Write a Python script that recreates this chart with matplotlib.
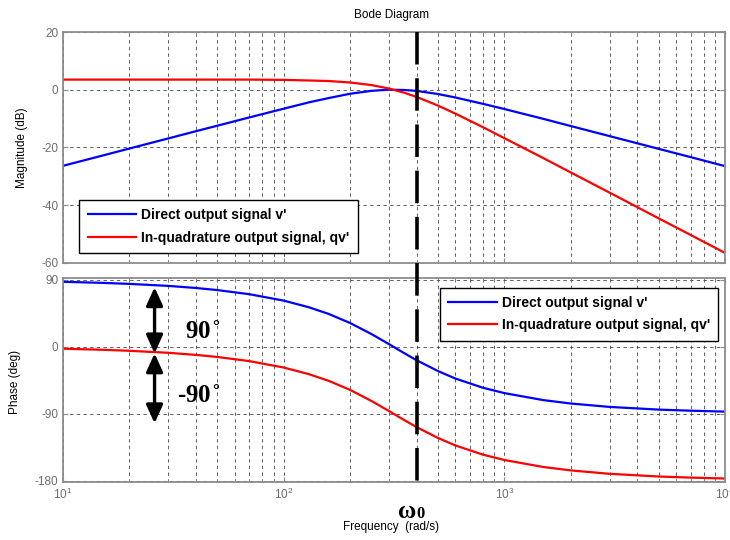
import matplotlib
matplotlib.use("Agg")
import matplotlib.pyplot as plt
from matplotlib.lines import Line2D
from matplotlib.transforms import blended_transform_factory

# --- values (rad/s, dB, deg) ---
freq = [10, 15, 20, 30, 40, 50, 70, 100, 130, 160, 200, 250, 300, 350, 400,
        500, 600, 800, 1000, 1500, 2000, 3000, 5000, 7000, 10000]
mag_direct = [-26.4, -22.9, -20.4, -16.9, -14.4, -12.5, -9.6, -6.6, -4.4, -2.9,
              -1.4, -0.4, 0.0, -0.1, -0.4, -1.5, -2.7, -4.9, -6.7, -10.1,
              -12.6, -16.1, -20.5, -23.4, -26.5]
mag_quad = [3.5, 3.5, 3.5, 3.5, 3.5, 3.5, 3.5, 3.4, 3.2, 3.0, 2.5, 1.6, 0.4,
            -1.0, -2.5, -5.5, -8.3, -13.0, -16.8, -23.7, -28.7, -35.7, -44.6,
            -50.4, -56.6]
phase_direct = [87.3, 85.9, 84.5, 81.8, 79.0, 76.2, 70.6, 62.0, 53.1, 44.1,
                31.9, 17.0, 3.5, -8.3, -18.1, -32.7, -42.8, -55.2, -62.4,
                -71.8, -76.4, -81.0, -84.6, -86.1, -87.3]
phase_quad = [-2.7, -4.1, -5.5, -8.2, -11.0, -13.8, -19.4, -28.0, -36.9, -45.9,
              -58.1, -73.0, -86.5, -98.3, -108.1, -122.7, -132.8, -145.2,
              -152.4, -161.8, -166.4, -171.0, -174.6, -176.1, -177.3]

labels = ["Direct output signal v'", "In-quadrature output signal, qv'"]
W0 = 400          # omega_0 marker
ARROW_F = 26      # where the 90 deg arrows sit
mag_ticks = [20, 0, -20, -40, -60]
phase_ticks = [90, 0, -90, -180]

plt.rcParams['font.family'] = ['Liberation Sans', 'DejaVu Sans']
plt.rcParams['axes.unicode_minus'] = False

fig = plt.figure(figsize=(7.3, 5.4), dpi=100)
ax_mag = fig.add_axes([0.0863, 0.5135, 0.9068, 0.4272])
ax_ph = fig.add_axes([0.0863, 0.1074, 0.9068, 0.3772])


def style(ax):
    ax.set_xscale('log')
    ax.set_xlim(10, 1e4)
    ax.grid(True, which='major', ls=(0, (4, 4)), color='#444444', lw=0.6)
    ax.grid(True, which='minor', axis='x', ls=(0, (4, 4)), color='#444444', lw=0.6)
    for s in ax.spines.values():
        s.set_color('#8c8c8c')
        s.set_linewidth(1.3)
    ax.tick_params(which='both', direction='in', top=True, right=True,
                   colors='#8c8c8c', labelcolor='#6e6e6e', labelsize=8.5)


style(ax_mag)
style(ax_ph)

ax_mag.plot(freq, mag_direct, color='#0000ff', lw=1.6, label=labels[0])
ax_mag.plot(freq, mag_quad, color='#ff0000', lw=1.6, label=labels[1])
ax_mag.set_ylim(-60, 20)
ax_mag.set_yticks(mag_ticks)
ax_mag.tick_params(labelbottom=False)

ax_ph.plot(freq, phase_direct, color='#0000ff', lw=1.6, label=labels[0])
ax_ph.plot(freq, phase_quad, color='#ff0000', lw=1.6, label=labels[1])
ax_ph.set_ylim(-182, 92)
ax_ph.set_yticks(phase_ticks)

leg_kw = dict(loc='upper left', borderaxespad=0, fancybox=False, framealpha=1,
              prop={'weight': 'bold', 'size': 10}, handlelength=3.5,
              labelspacing=0.6, borderpad=0.6, handletextpad=0.35)
for ax, anchor in ((ax_mag, (0.0246, 0.272)), (ax_ph, (0.5695, 0.954))):
    leg = ax.legend(bbox_to_anchor=anchor, **leg_kw)
    leg.get_frame().set_edgecolor('black')
    leg.get_frame().set_linewidth(1.0)

# titles / labels
fig.text(0.5366, 0.972, 'Bode Diagram', ha='center', va='center', fontsize=8.5)
fig.text(0.536, 0.024, 'Frequency  (rad/s)', ha='center', va='center', fontsize=8.5)
fig.text(0.0297, 1 - 148 / 540, 'Magnitude (dB)', rotation=90, ha='center', va='center', fontsize=8.5)
fig.text(0.0205, 1 - 381.7 / 540, 'Phase (deg)', rotation=90, ha='center', va='center', fontsize=8.5)

# omega_0 dashed marker spanning both panels
trans = blended_transform_factory(ax_ph.transData, fig.transFigure)
fig.add_artist(Line2D([W0, W0], [1 - 32 / 540, 1 - 492 / 540], transform=trans,
                      color='black', lw=2.6, ls=(0, (9, 3.8)), clip_on=False, zorder=10))
fig.text(W0, 1 - 511 / 540, 'ω', transform=trans, ha='right', va='center',
         fontsize=18, fontweight='bold', family=['Liberation Serif', 'DejaVu Serif'])
fig.text(W0, 1 - 514 / 540, '0', transform=trans, ha='left', va='center',
         fontsize=12, fontweight='bold', family=['Liberation Serif', 'DejaVu Serif'])

# 90 degree arrows
arrow_kw = dict(arrowstyle='<|-|>,head_length=1.1,head_width=0.5', lw=2.4,
                color='black', shrinkA=0, shrinkB=0)
ax_ph.annotate('', xy=(ARROW_F, -9), xytext=(ARROW_F, 80), arrowprops=arrow_kw)
ax_ph.annotate('', xy=(ARROW_F, -103), xytext=(ARROW_F, -9), arrowprops=arrow_kw)
ax_ph.text(35.7, 19, r'90$^{\circ}$', ha='left', va='center', fontsize=18,
           fontweight='bold', family=['Liberation Serif', 'DejaVu Serif'])
ax_ph.text(32.9, -67, r'-90$^{\circ}$', ha='left', va='center', fontsize=18,
           fontweight='bold', family=['Liberation Serif', 'DejaVu Serif'])

fig.savefig('out.png', dpi=100)
